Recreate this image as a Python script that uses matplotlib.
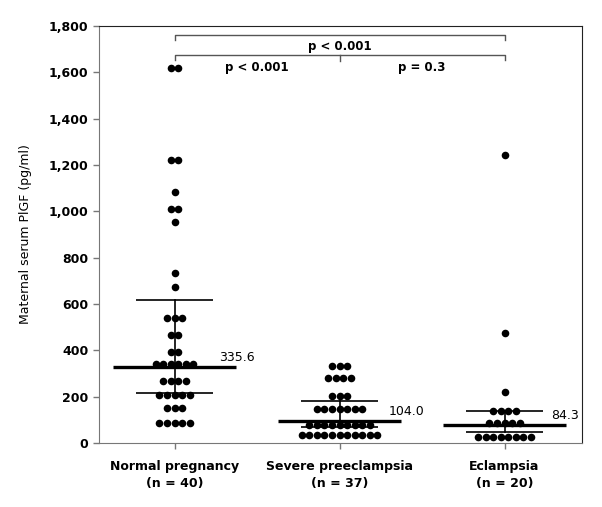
import numpy as np
import matplotlib
matplotlib.use("Agg")
import matplotlib.pyplot as plt

plt.rcParams['font.family'] = ['DejaVu Sans']

categories = ["Normal pregnancy\n(n = 40)", "Severe preeclampsia\n(n = 37)", "Eclampsia\n(n = 20)"]

normal = [1620]*2 + [1220]*2 + [1085] + [1010]*2 + [955] + [732] + [672] + \
         [541]*3 + [466]*2 + [394]*2 + [341]*6 + [268]*4 + [207]*5 + [150]*3 + [85]*5
severe = [332]*3 + [279]*4 + [203]*3 + [145]*7 + [78]*9 + [35]*11
eclampsia = [1243] + [474] + [222] + [138]*4 + [88]*5 + [25]*8
groups = [normal, severe, eclampsia]

medians = [328, 96, 78]
median_labels = ["335.6", "104.0", "84.3"]
upper = [617, 181, 137]
lower = [215, 70, 49]

yticks = list(range(0, 1801, 200))

fig = plt.figure(figsize=(6.02, 5.07), dpi=100)
ax = fig.add_axes([99/602, 1-443/507, (582-99)/602, (443-26)/507])

xs = [1, 2, 3]
spacing = 0.046
for x, vals in zip(xs, groups):
    vals = np.array(vals)
    for v in np.unique(vals):
        n = int(np.sum(vals == v))
        offs = (np.arange(n) - (n-1)/2) * spacing
        ax.scatter(x + offs, [v]*n, s=30, color='black', zorder=3, linewidths=0)

lab_dx = [0.27, 0.30, 0.28]
for x, m, u, l, lab, dx in zip(xs, medians, upper, lower, median_labels, lab_dx):
    ax.plot([x-0.375, x+0.375], [m, m], color='black', lw=2.4, zorder=4, solid_capstyle='butt')
    ax.plot([x-0.235, x+0.235], [u, u], color='black', lw=1.2, zorder=4, solid_capstyle='butt')
    ax.plot([x-0.235, x+0.235], [l, l], color='black', lw=1.2, zorder=4, solid_capstyle='butt')
    ax.plot([x, x], [l, u], color='black', lw=1.2, zorder=4)
    ax.text(x+dx, m+40, lab, fontsize=9, va='center', ha='left')

# brackets
bc = '#555555'
ax.plot([1, 1, 3, 3], [1740, 1763, 1763, 1740], color=bc, lw=1)
ax.plot([1, 1, 3, 3], [1655, 1673, 1673, 1655], color=bc, lw=1)
ax.plot([2, 2], [1673, 1648], color=bc, lw=1)
ax.text(2, 1712, "p < 0.001", ha='center', va='center', fontsize=8.5, fontweight='bold')
ax.text(1.5, 1620, "p < 0.001", ha='center', va='center', fontsize=8.5, fontweight='bold')
ax.text(2.5, 1620, "p = 0.3", ha='center', va='center', fontsize=8.5, fontweight='bold')

ax.set_xlim(1 - 75.5/165, 3 + 77.5/165)
ax.set_ylim(0, 1800)
ax.set_yticks(yticks)
ax.set_yticklabels([f"{t:,}" for t in yticks], fontsize=9, fontweight='bold')
ax.set_xticks(xs)
ax.set_xticklabels(categories, fontsize=9, fontweight='bold', linespacing=1.45)
ax.set_ylabel("Maternal serum PlGF (pg/ml)", fontsize=9, labelpad=12)

for s in ['left', 'bottom']:
    ax.spines[s].set_color('#777777')
for s in ['top', 'right']:
    ax.spines[s].set_color('#222222')
ax.tick_params(axis='both', direction='out', length=4, color='#777777', width=1)
ax.tick_params(axis='x', pad=8)

fig.savefig("out.png", dpi=100)
